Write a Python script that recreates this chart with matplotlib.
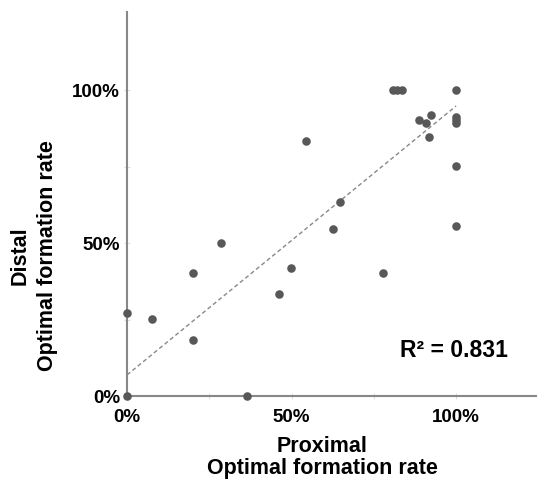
import numpy as np
import matplotlib.pyplot as plt

plt.rcParams['font.family'] = ['Liberation Sans', 'DejaVu Sans']
plt.rcParams['font.weight'] = 'bold'

# proximal vs distal optimal formation rate (%)
proximal = [80.9, 82.1, 83.6, 100, 88.8, 90.9, 92.3, 91.7, 100, 100, 100, 100,
            54.4, 64.7, 62.5, 100, 28.6, 20.0, 49.8, 46.1, 77.7, 0, 7.6, 20.0, 0, 36.4]
distal = [100, 100, 100, 100, 90.1, 89.1, 91.8, 84.7, 91.3, 90.2, 89.1, 75.2,
          83.5, 63.3, 54.7, 55.7, 50.1, 40.1, 41.7, 33.4, 40.1, 27.3, 25.2, 18.3, 0, 0]
fit_intercept = 6.9
fit_slope = 0.879
r2_text = 'R² = 0.831'
tick_vals = [0, 25, 50, 75, 100]
tick_labels = ['0%', '', '50%', '', '100%']

fig = plt.figure(figsize=(5.37, 4.83), dpi=100)
ax = fig.add_axes([0.2365, 0.180, 0.7635, 0.795])

xf = np.array([0, 100])
ax.plot(xf, fit_intercept + fit_slope * xf, color='#888888', lw=1, ls=(0, (3, 2)))
ax.scatter(proximal, distal, s=38, color='#585858', zorder=3, clip_on=False, linewidths=0)

ax.set_xlim(0, 124.6)
ax.set_ylim(0, 125.5)
ax.set_xticks(tick_vals)
ax.set_xticklabels(tick_labels)
ax.set_yticks(tick_vals)
ax.set_yticklabels(tick_labels)
ax.tick_params(direction='inout', length=4, color='#dddddd', labelsize=13.5)
ax.tick_params(axis='x', pad=7)
ax.tick_params(axis='y', pad=3)
for s in ['top', 'right']:
    ax.spines[s].set_visible(False)
for s in ['left', 'bottom']:
    ax.spines[s].set_color('#888888')
    ax.spines[s].set_linewidth(1.5)

ax.text(0.665, 0.102, r2_text, transform=ax.transAxes, fontsize=16.5, fontweight='bold',
        va='baseline')

lab_size = 15.5
fig.text(0.600, 0.075, 'Proximal', ha='center', va='center', fontsize=lab_size, fontweight='bold')
fig.text(0.600, 0.031, 'Optimal formation rate', ha='center', va='center', fontsize=lab_size, fontweight='bold')
fig.text(0.037, 0.47, 'Distal', ha='center', va='center', rotation=90, fontsize=lab_size, fontweight='bold')
fig.text(0.088, 0.47, 'Optimal formation rate', ha='center', va='center', rotation=90, fontsize=lab_size, fontweight='bold')

plt.savefig('out.png', dpi=100)
